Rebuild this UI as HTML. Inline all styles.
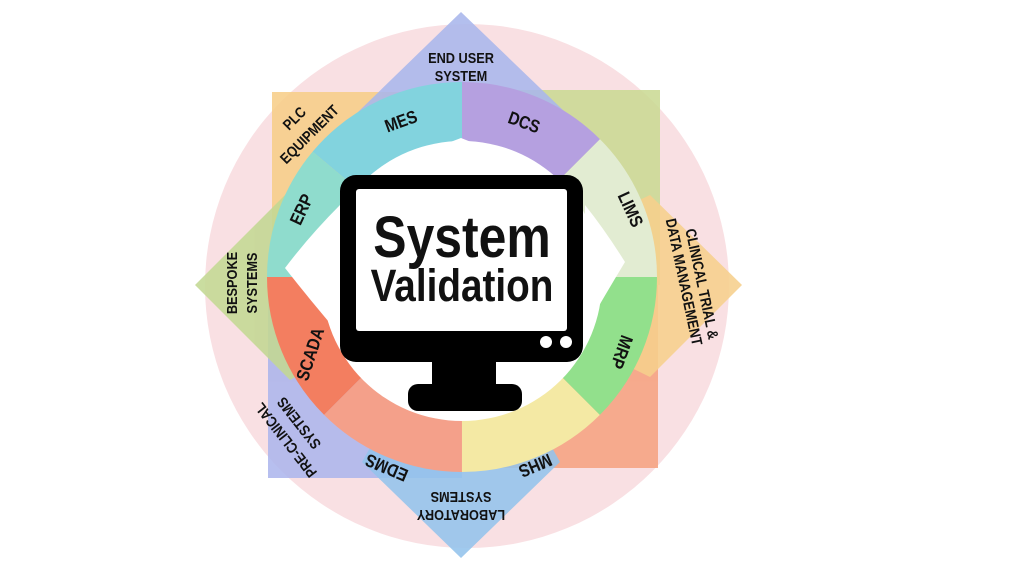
<!DOCTYPE html>
<html><head><meta charset="utf-8"><style>
html,body{margin:0;padding:0;background:#fff;}
svg{display:block;}
text{font-family:"Liberation Sans",sans-serif;font-weight:bold;fill:#111;}
</style></head><body>
<svg width="1024" height="577" viewBox="0 0 1024 577" xmlns="http://www.w3.org/2000/svg">
<rect width="1024" height="577" fill="#fff"/>
<circle cx="467" cy="286" r="262" fill="#f9e0e3"/>
<g opacity="0.85">
<path d="M272,92 L462,92 L462,285 L272,285 Z" fill="#f7cd85"/>
<path d="M660,90 L462,90 L462,285 L660,285 Z" fill="#c9d891"/>
<path d="M268,478 L462,478 L462,285 L268,285 Z" fill="#aab4ec"/>
<path d="M658,468 L462,468 L462,285 L658,285 Z" fill="#f6a07e"/>
</g>
<g opacity="0.88">
<path d="M461,12 L565,112 L462,285 L358,112 Z" fill="#a9b6ec"/>
<path d="M461,558 L560,462 L462,285 L362,462 Z" fill="#93c3ec"/>
<path d="M195,285 L290,190 L462,285 L290,380 Z" fill="#c3d893"/>
<path d="M742,285 L650,195 L462,285 L650,377 Z" fill="#f6cf8c"/>
</g>
<g fill="none" stroke-width="90">
<circle cx="462" cy="277" r="150" stroke="#82d3de" stroke-dasharray="130.9 2000" transform="rotate(-140 462 277)"/>
<circle cx="462" cy="277" r="150" stroke="#8fdccd" stroke-dasharray="104.7 2000" transform="rotate(-180 462 277)"/>
<circle cx="462" cy="277" r="150" stroke="#f37e60" stroke-dasharray="117.8 2000" transform="rotate(135 462 277)"/>
<circle cx="462" cy="277" r="150" stroke="#f4a08a" stroke-dasharray="117.8 2000" transform="rotate(90 462 277)"/>
<circle cx="462" cy="277" r="150" stroke="#f4e9a4" stroke-dasharray="117.8 2000" transform="rotate(45 462 277)"/>
<circle cx="462" cy="277" r="150" stroke="#92e08c" stroke-dasharray="117.8 2000" transform="rotate(0 462 277)"/>
<circle cx="462" cy="277" r="150" stroke="#e2ecd2" stroke-dasharray="117.8 2000" transform="rotate(-45 462 277)"/>
<circle cx="462" cy="277" r="150" stroke="#b5a0e0" stroke-dasharray="117.8 2000" transform="rotate(-90 462 277)"/>
</g>
<g fill="#fff">
<circle cx="462" cy="281" r="140"/>
<path d="M285,268 Q310,235 340,205 L340,335 Q310,300 285,268 Z"/>
<path d="M625,262 Q605,230 585,205 L585,330 Q605,295 625,262 Z"/>
<path d="M461,138 Q430,150 400,160 L520,160 Q490,150 461,138 Z"/>
</g>
<rect x="340" y="175" width="243" height="187" rx="16" fill="#000"/>
<rect x="356" y="189" width="211" height="142" rx="3" fill="#fff"/>
<circle cx="546" cy="342" r="6" fill="#fff"/>
<circle cx="566" cy="342" r="6" fill="#fff"/>
<rect x="432" y="358" width="64" height="34" fill="#000"/>
<rect x="408" y="384" width="114" height="27" rx="10" fill="#000"/>
<text x="0" y="0" font-size="58" text-anchor="middle" fill="#000" transform="translate(462 257) scale(0.86 1)">System</text>
<text x="0" y="0" font-size="45" text-anchor="middle" fill="#000" transform="translate(462 301) scale(0.86 1)">Validation</text>
<g font-size="15" text-anchor="middle">
<text transform="translate(461,63) scale(0.85 1)">END USER</text>
<text transform="translate(461,81) scale(0.85 1)">SYSTEM</text>
<text transform="translate(298,122) rotate(-45) scale(0.85 1)">PLC</text>
<text transform="translate(313,138) rotate(-45) scale(0.85 1)">EQUIPMENT</text>
<text font-size="18" transform="translate(403,127) rotate(-20) scale(0.85 1)">MES</text>
<text font-size="18" transform="translate(522,128) rotate(20) scale(0.85 1)">DCS</text>
<text font-size="18" transform="translate(625,212) rotate(65) scale(0.85 1)">LIMS</text>
<text font-size="18" transform="translate(307,212) rotate(-65) scale(0.85 1)">ERP</text>
<text transform="translate(237,283) rotate(-90) scale(0.85 1)">BESPOKE</text>
<text transform="translate(257,283) rotate(-90) scale(0.85 1)">SYSTEMS</text>
<text font-size="18" transform="translate(316,356) rotate(-72) scale(0.85 1)">SCADA</text>
<text font-size="18" transform="translate(616,350) rotate(110) scale(0.85 1)">MRP</text>
<text transform="translate(697,285) rotate(78) scale(0.85 1)">CLINICAL TRIAL &amp;</text>
<text transform="translate(679,283) rotate(78) scale(0.85 1)">DATA MANAGEMENT</text>
<text font-size="18" transform="translate(533,460) rotate(157) scale(0.85 1)">MHS</text>
<text font-size="18" transform="translate(389,462) rotate(203) scale(0.85 1)">EDMS</text>
<text transform="translate(461,492) rotate(180) scale(0.85 1)">SYSTEMS</text>
<text transform="translate(461,510) rotate(180) scale(0.85 1)">LABORATORY</text>
<text transform="translate(303,420) rotate(232) scale(0.85 1)">SYSTEMS</text>
<text transform="translate(290,437) rotate(232) scale(0.85 1)">PRE-CLINICAL</text>
</g>
</svg>
</body></html>
